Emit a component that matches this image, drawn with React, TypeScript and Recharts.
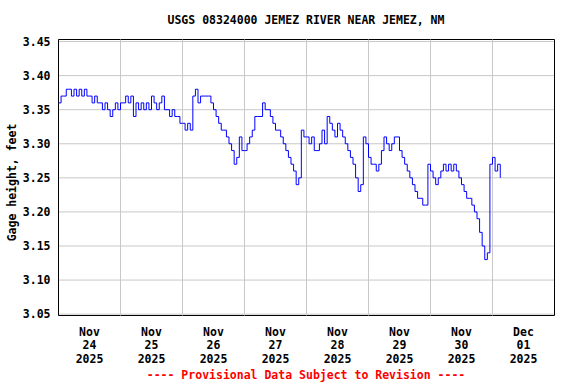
import React from "react";
import {
  LineChart,
  Line,
  XAxis,
  YAxis,
  CartesianGrid,
  ReferenceLine,
  ReferenceArea,
} from "recharts";

const TITLE = "USGS 08324000 JEMEZ RIVER NEAR JEMEZ, NM";
const Y_LABEL = "Gage height, feet";
const FOOTER = "---- Provisional Data Subject to Revision ----";

// one entry per calendar day shown on the x axis
const DAY_MONTHS = ["Nov", "Nov", "Nov", "Nov", "Nov", "Nov", "Nov", "Dec"];
const DAY_DATES = ["24", "25", "26", "27", "28", "29", "30", "01"];
const DAY_YEARS = ["2025", "2025", "2025", "2025", "2025", "2025", "2025", "2025"];

const Y_TICKS = [3.05, 3.1, 3.15, 3.2, 3.25, 3.3, 3.35, 3.4, 3.45];
const Y_DOMAIN: [number, number] = [3.048, 3.453];

// hourly gage height (ft), starting at midnight of each day
const nov24 = [3.36, 3.37, 3.37, 3.38, 3.38, 3.37, 3.38, 3.37, 3.38, 3.37, 3.38, 3.37, 3.37, 3.36, 3.37, 3.36, 3.36, 3.35, 3.36, 3.35, 3.34, 3.35, 3.36, 3.35];
const nov25 = [3.36, 3.36, 3.37, 3.36, 3.37, 3.34, 3.36, 3.35, 3.36, 3.35, 3.36, 3.35, 3.37, 3.36, 3.35, 3.36, 3.37, 3.35, 3.35, 3.34, 3.35, 3.34, 3.34, 3.33];
const nov26 = [3.33, 3.32, 3.33, 3.32, 3.37, 3.38, 3.36, 3.37, 3.37, 3.37, 3.37, 3.36, 3.35, 3.34, 3.33, 3.32, 3.32, 3.31, 3.3, 3.29, 3.27, 3.28, 3.31, 3.29];
const nov27 = [3.29, 3.3, 3.31, 3.32, 3.34, 3.34, 3.34, 3.36, 3.35, 3.35, 3.34, 3.33, 3.32, 3.32, 3.31, 3.3, 3.29, 3.28, 3.27, 3.26, 3.24, 3.25, 3.32, 3.31];
const nov28 = [3.31, 3.3, 3.31, 3.29, 3.29, 3.3, 3.32, 3.3, 3.34, 3.33, 3.32, 3.31, 3.33, 3.32, 3.31, 3.3, 3.29, 3.28, 3.27, 3.25, 3.23, 3.24, 3.31, 3.3];
const nov29 = [3.28, 3.27, 3.27, 3.26, 3.27, 3.29, 3.31, 3.3, 3.29, 3.3, 3.31, 3.31, 3.29, 3.28, 3.27, 3.26, 3.25, 3.24, 3.23, 3.22, 3.22, 3.21, 3.21, 3.27];
const nov30 = [3.26, 3.25, 3.24, 3.25, 3.26, 3.27, 3.26, 3.27, 3.26, 3.27, 3.26, 3.25, 3.24, 3.23, 3.22, 3.22, 3.21, 3.2, 3.19, 3.17, 3.15, 3.13, 3.14, 3.27];
const dec01 = [3.28, 3.26, 3.27, 3.25];

const gage = [...nov24, ...nov25, ...nov26, ...nov27, ...nov28, ...nov29, ...nov30, ...dec01];
const data = gage.map((v, h) => ({ h, v }));

const HOURS = DAY_DATES.length * 24;
const noonTicks = DAY_DATES.map((_, i) => i * 24 + 12);
const midnights = DAY_DATES.slice(1).map((_, i) => (i + 1) * 24);

const FONT = '"DejaVu Sans Mono", "Liberation Mono", monospace';
const GRID = "#c8c8c8";

function DayTick({ x, y, index }: any) {
  return (
    <text x={x} y={y} textAnchor="middle" fontFamily={FONT} fontWeight="bold" fontSize={11.5} fill="#000">
      <tspan x={x} dy={18}>{DAY_MONTHS[index]}</tspan>
      <tspan x={x} dy={13.5}>{DAY_DATES[index]}</tspan>
      <tspan x={x} dy={13.5}>{DAY_YEARS[index]}</tspan>
    </text>
  );
}

export default function App() {
  return (
    <div style={{ position: "absolute", left: 0, top: 0, width: 576, height: 384, background: "#fff" }}>
      {/* half-pixel margins keep the black frame crisp */}
      <LineChart width={576} height={384} data={data} margin={{ top: 39.5, right: 21.5, bottom: 18.5, left: 0.5 }}>
        <CartesianGrid vertical={false} stroke={GRID} />
        {midnights.map((m) => (
          <ReferenceLine key={m} x={m} stroke={GRID} />
        ))}
        <XAxis
          dataKey="h"
          type="number"
          domain={[0, HOURS]}
          ticks={noonTicks}
          interval={0}
          allowDataOverflow
          tick={<DayTick />}
          tickLine={false}
          axisLine={false}
          tickSize={0}
          height={50}
        />
        <YAxis
          domain={Y_DOMAIN}
          ticks={Y_TICKS}
          interval={0}
          allowDataOverflow
          tickFormatter={(v: number) => v.toFixed(2)}
          tick={{ fontFamily: FONT, fontWeight: "bold", fontSize: 11.5, fill: "#000" }}
          tickLine={false}
          axisLine={false}
          tickSize={0}
          tickMargin={8}
          width={58}
        />
        <Line
          type="stepAfter"
          dataKey="v"
          stroke="#0000ff"
          strokeWidth={1}
          dot={false}
          isAnimationActive={false}
        />
        <ReferenceArea
          x1={0}
          x2={HOURS}
          y1={Y_DOMAIN[0]}
          y2={Y_DOMAIN[1]}
          fill="none"
          fillOpacity={0}
          stroke="#000"
          strokeWidth={1}
          ifOverflow="visible"
        />
      </LineChart>
      <svg
        width={576}
        height={384}
        style={{ position: "absolute", left: 0, top: 0, pointerEvents: "none" }}
      >
        <text x={306} y={24} textAnchor="middle" fontFamily={FONT} fontWeight="bold" fontSize={11.5} fill="#000">
          {TITLE}
        </text>
        <text
          transform="translate(15.5,182.5) rotate(-90)"
          textAnchor="middle"
          fontFamily={FONT}
          fontWeight="bold"
          fontSize={11.5}
          fill="#000"
        >
          {Y_LABEL}
        </text>
        <text x={306} y={378.5} textAnchor="middle" fontFamily={FONT} fontWeight="bold" fontSize={11.5} fill="#ff0000">
          {FOOTER}
        </text>
      </svg>
    </div>
  );
}
